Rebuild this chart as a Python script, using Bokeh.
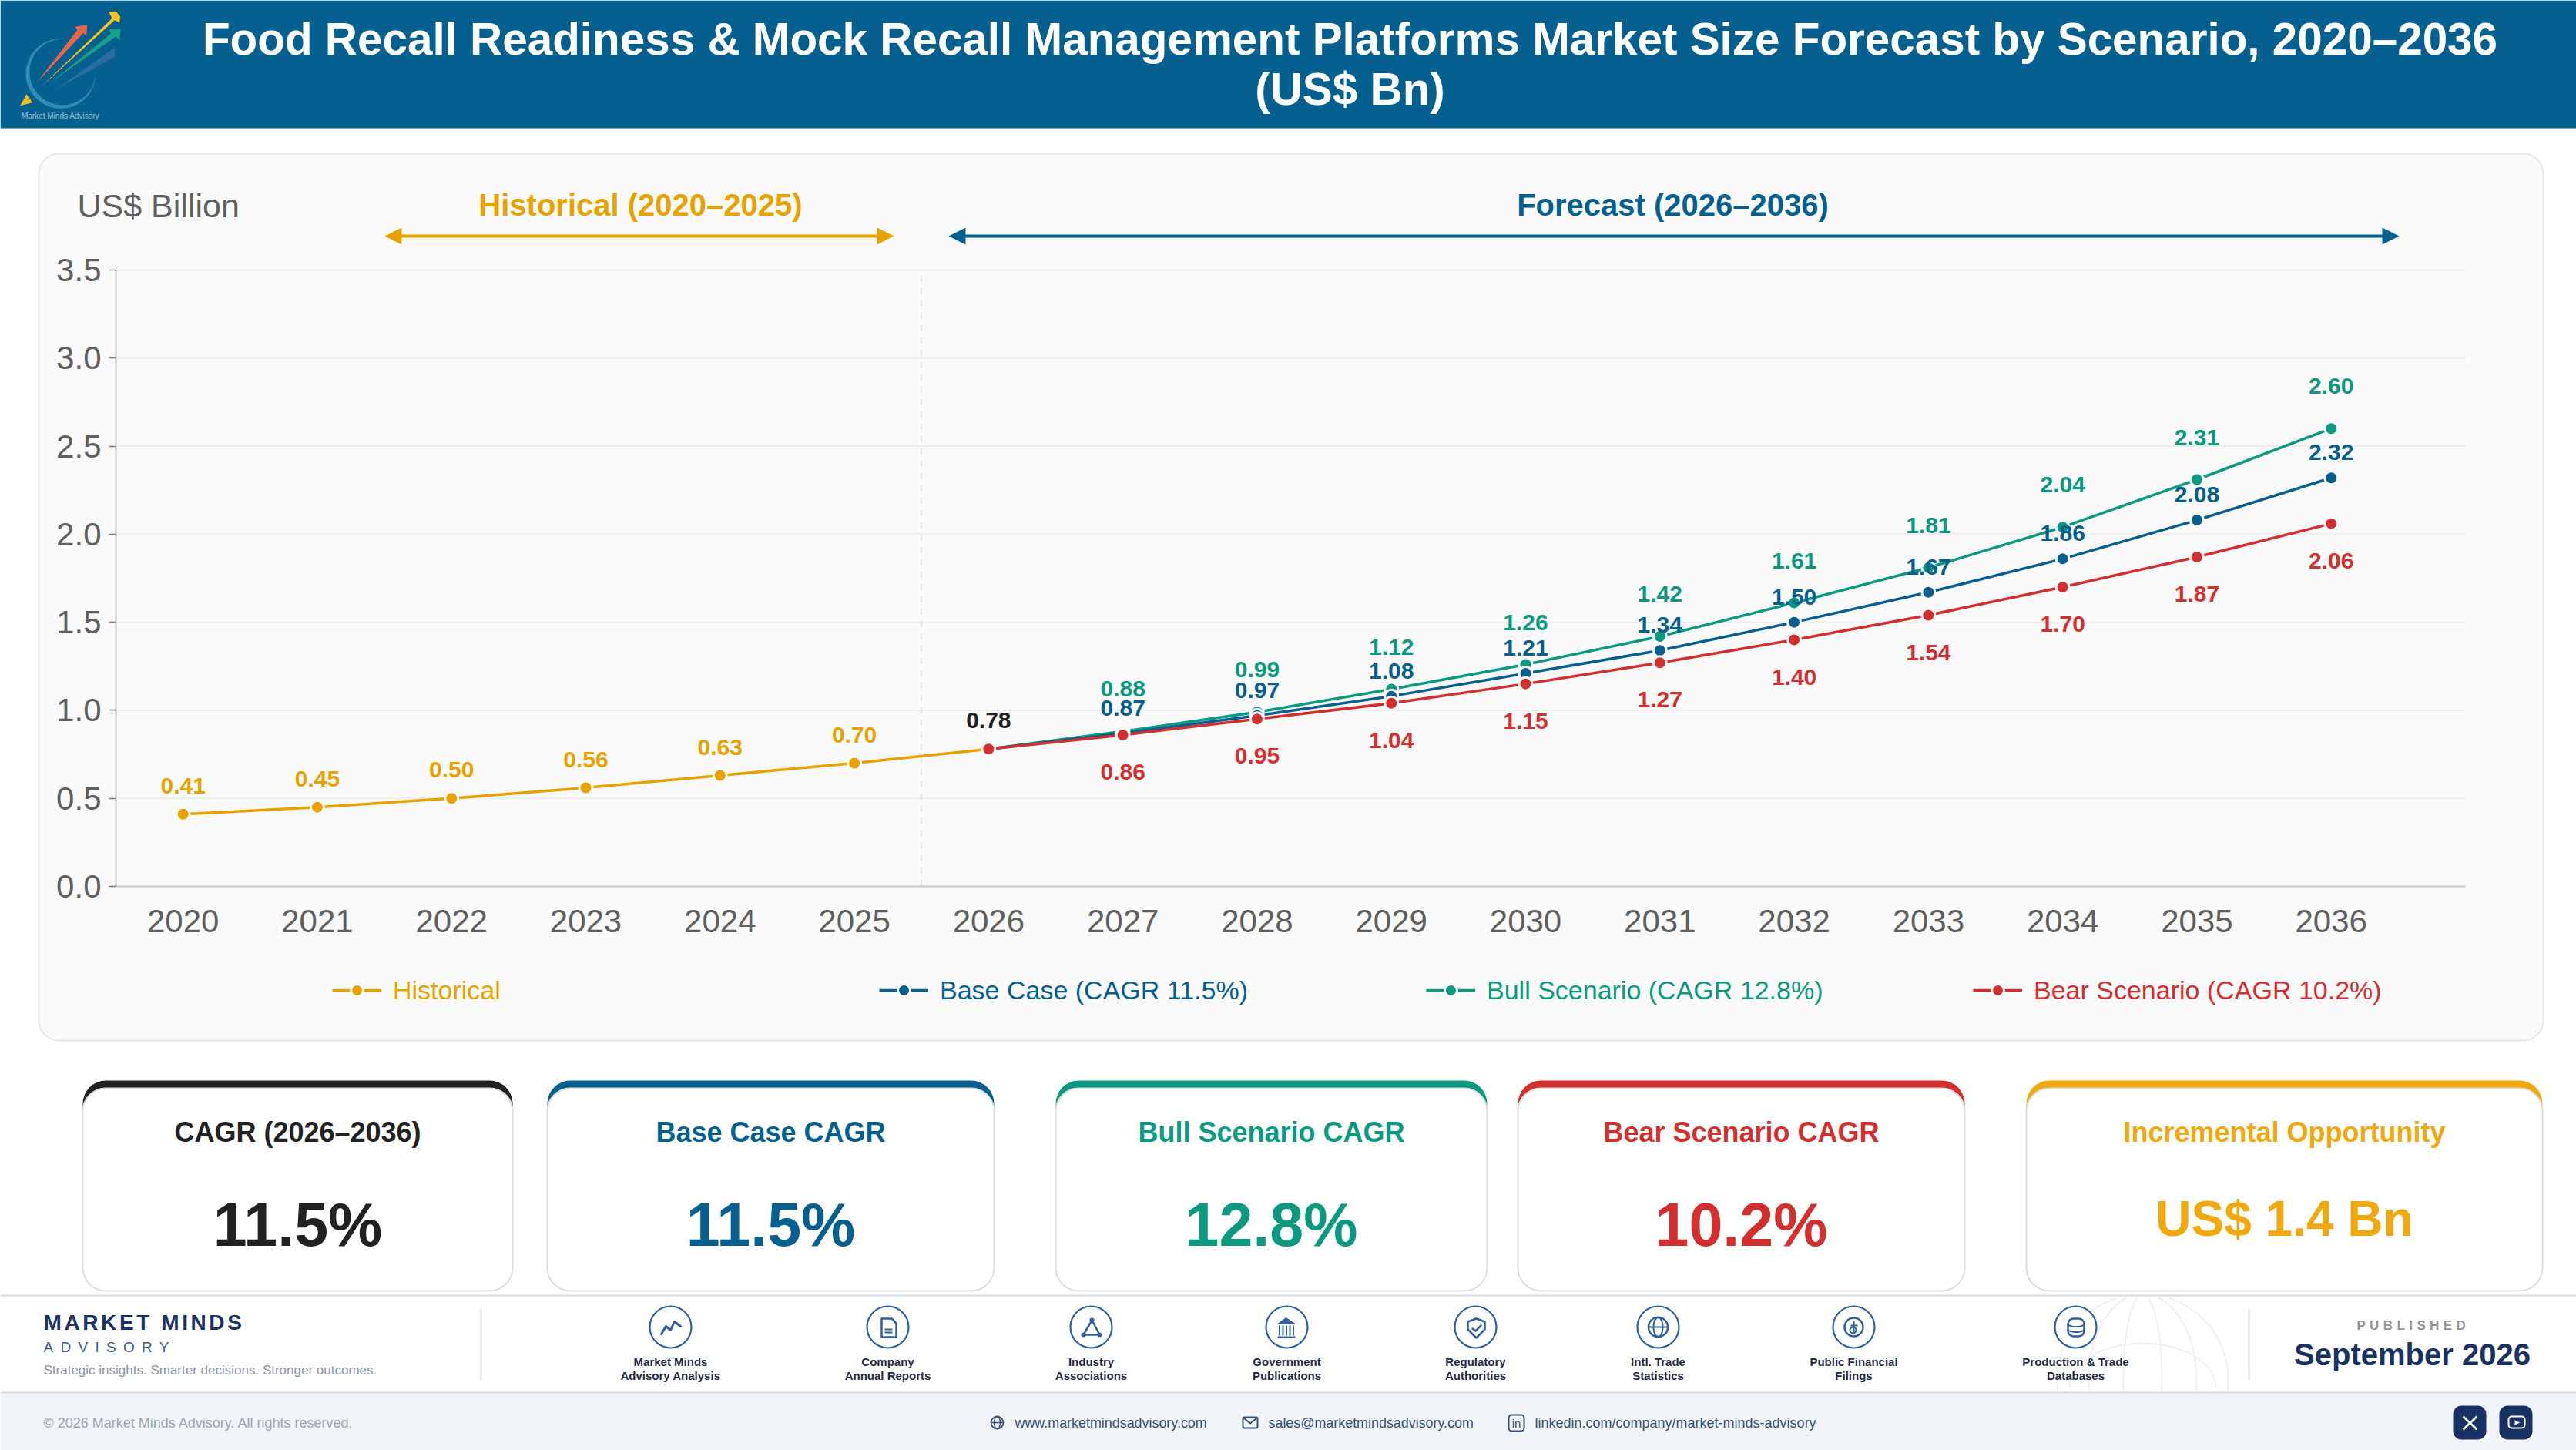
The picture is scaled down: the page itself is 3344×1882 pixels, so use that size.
import numpy as np
from bokeh.plotting import figure
from bokeh.models import (BoxAnnotation, PolyAnnotation, Label, Legend, LegendItem,
                          ColumnDataSource, FixedTicker, Range1d)
from bokeh.core.properties import value
from bokeh.embed import file_html
from bokeh.resources import INLINE

# ---- data ----
hist_years = [2020, 2021, 2022, 2023, 2024, 2025, 2026]
hist_vals = [0.41, 0.45, 0.50, 0.56, 0.63, 0.70, 0.78]
fc_years = [2026, 2027, 2028, 2029, 2030, 2031, 2032, 2033, 2034, 2035, 2036]
base_vals = [0.78, 0.87, 0.97, 1.08, 1.21, 1.34, 1.50, 1.67, 1.86, 2.08, 2.32]
bull_vals = [0.78, 0.88, 0.99, 1.12, 1.26, 1.42, 1.61, 1.81, 2.04, 2.31, 2.60]
bear_vals = [0.78, 0.86, 0.95, 1.04, 1.15, 1.27, 1.40, 1.54, 1.70, 1.87, 2.06]
y_ticks = [0.0, 0.5, 1.0, 1.5, 2.0, 2.5, 3.0, 3.5]
kpi_titles = ["CAGR (2026–2036)", "Base Case CAGR", "Bull Scenario CAGR", "Bear Scenario CAGR", "Incremental Opportunity"]
kpi_values = ["11.5%", "11.5%", "12.8%", "10.2%", "US$ 1.4 Bn"]
sources = [("Market Minds", "Advisory Analysis"), ("Company", "Annual Reports"), ("Industry", "Associations"),
           ("Government", "Publications"), ("Regulatory", "Authorities"), ("Intl. Trade", "Statistics"),
           ("Public Financial", "Filings"), ("Production & Trade", "Databases")]

AMBER, BLUE, GREEN, RED, INK = "#e8a200", "#05608f", "#0b9a80", "#d32f2f", "#222222"
AMBER2, NAVY, ICON = "#f0a80f", "#1a3263", "#2f5f9e"
PANEL = "#fafafa"
FONT = "Liberation Sans"
W, H = 3344, 1882
# the plot area spans the whole page; the axes are pinned at their place inside it
AX_L, AX_R, AX_T, AX_B = 150, 3200, 350, 1150
X0, X1, Y0, Y1 = 2019.5, 2037.0, 0.0, 3.5
SX = (AX_R - AX_L) / (X1 - X0)
SY = (AX_B - AX_T) / (Y1 - Y0)

p = figure(width=W, height=H, output_backend="svg", toolbar_location=None,
           x_range=Range1d(X0 - AX_L / SX, X1 + (W - AX_R) / SX),
           y_range=Range1d(Y0 - (H - AX_B) / SY, Y1 + AX_T / SY),
           min_border=0, background_fill_color="#ffffff", border_fill_color="#ffffff", outline_line_color=None)


def box(l, t, r, b, fill="#ffffff", line=None, lw=0, radius=0):
    rad = radius if isinstance(radius, dict) else int(round(radius))
    p.add_layout(BoxAnnotation(left=l, right=r, top=t, bottom=b,
                               left_units="canvas", right_units="canvas", top_units="canvas", bottom_units="canvas",
                               fill_color=fill, fill_alpha=1 if fill else 0, line_color=line, line_width=lw, line_alpha=1,
                               border_radius=rad, level="image", editable=False))


def poly(pts, fill=None, line=None, lw=0, join="round"):
    p.add_layout(PolyAnnotation(xs=[a for a, _ in pts], ys=[b for _, b in pts], xs_units="canvas", ys_units="canvas",
                                fill_color=fill, fill_alpha=1 if fill else 0, line_color=line, line_width=lw, line_alpha=1,
                                line_join=join, level="image", editable=False))


def stroke(pts, color, lw):
    # an open polyline: walk there and back
    poly(list(pts) + list(pts[-2:0:-1]), None, color, lw)


def text(x, y, s, size, color, bold=False, align="center"):
    p.add_layout(Label(x=x, y=y, x_units="canvas", y_units="canvas", text=s, level="image",
                       text_font=FONT, text_font_size=f"{size}px", text_color=color,
                       text_font_style="bold" if bold else "normal", text_align=align, text_baseline="middle"))


def ring(cx, cy, r, line, lw, fill=None):
    box(cx - r, cy - r, cx + r, cy + r, fill, line, lw, r)


def ell(cx, cy, rx, ry, a0=0, a1=360, n=40):
    t = np.radians(np.linspace(a0, a1, n))
    return list(zip((cx + rx * np.cos(t)).tolist(), (cy + ry * np.sin(t)).tolist()))


# ---- page furniture ----
box(50, 199, 3301, 1350, PANEL, "#e6e6e6", 2, 26)
box(0, 0, W, 166, BLUE)
box(0, 1808, W, H, "#f1f4f9")
box(0, 1680, W, 1682, "#d6dae6")
box(0, 1806, W, 1808, "#d6dae6")

# logo
L = lambda pts: [(10 + a / 3, 5 + b / 3) for a, b in pts]
ang = np.radians(np.linspace(275, 5, 70))  # top, through left and bottom, to the right
outer = [(205 + 136 * np.cos(a), 270 + 136 * np.sin(a)) for a in ang]
th = 1.5 + 15 * np.sin(np.linspace(0, np.pi, 70)) ** 1.2
inner = [(205 + (136 - d) * np.cos(a), 270 + (136 - d) * np.sin(a)) for a, d in zip(ang, th)]
poly(L(outer + inner[::-1]), "#2f8db3")
poly(L([(180, 335), (400, 180), (415, 170), (415, 205)]), "#2a6ea0")
poly(L([(165, 305), (400, 115), (395, 97), (438, 97), (435, 140), (420, 125)]), "#17a085")
poly(L([(125, 325), (405, 55), (392, 30), (420, 28), (437, 48), (434, 72), (415, 62)]), "#f5c21f")
poly(L([(112, 305), (270, 100), (260, 88), (308, 80), (305, 125), (293, 112)]), "#e8654a")
poly(L([(72, 350), (95, 383), (47, 395)]), "#f5b921")
text(78, 150, "Market Minds Advisory", 10, "#9dbbd2")

# header
text(1752, 50, "Food Recall Readiness & Mock Recall Management Platforms Market Size Forecast by Scenario, 2020–2036", 58.4, "#ffffff", True)
text(1752, 115, "(US$ Bn)", 58.4, "#ffffff", True)

text(100, 266, "US$ Billion", 43, "#5f5f5f", False, "left")
text(831, 265, "Historical (2020–2025)", 40, AMBER, True)
text(2171, 265, "Forecast (2026–2036)", 40, BLUE, True)


def double_arrow(x0, x1, y, color):
    box(x0 + 18, y - 2, x1 - 18, y + 2, color)
    poly([(x0, y), (x0 + 22, y - 11), (x0 + 22, y + 11)], color)
    poly([(x1, y), (x1 - 22, y - 11), (x1 - 22, y + 11)], color)


double_arrow(499, 1160, 306, AMBER)
double_arrow(1231, 3114, 306, BLUE)

# ---- axes ----
p.xaxis.ticker = FixedTicker(ticks=hist_years + fc_years[1:])
p.yaxis.ticker = FixedTicker(ticks=y_ticks)
p.yaxis.major_label_overrides = {v: f"{v:.1f}" for v in y_ticks}
p.xaxis.fixed_location = Y0
p.yaxis.fixed_location = X0
p.xaxis.bounds = (X0, X1)
p.yaxis.bounds = (Y0, Y1)
for ax in (p.xaxis[0], p.yaxis[0]):
    ax.major_label_text_font = FONT
    ax.major_label_text_font_size = "42px"
    ax.major_label_text_color = "#5f5f5f"
    ax.minor_tick_line_color = None
p.xaxis.major_tick_line_color = None
p.xaxis.axis_line_color = "#cfcfcf"
p.xaxis.axis_line_width = 2.5
p.xaxis.major_label_standoff = 24
p.yaxis.axis_line_color = "#7f7f7f"
p.yaxis.axis_line_width = 1.5
p.yaxis.major_tick_line_color = "#7f7f7f"
p.yaxis.major_tick_line_width = 1.5
p.yaxis.major_tick_in = 0
p.yaxis.major_tick_out = 9
p.yaxis.major_label_standoff = 10
p.grid.visible = False
# grid lines that stop at the axis and at the plot's right end
grid_y = [v for v in y_ticks if v > Y0]
p.segment(x0=[X0] * len(grid_y), y0=grid_y, x1=[X1] * len(grid_y), y1=grid_y, line_color="#ededed", line_width=2)
p.line([2025.5, 2025.5], [Y0, Y1], line_color="#dcdcdc", line_width=1.5, line_dash=[8, 8])


def series(xs, ys, color):
    src = ColumnDataSource(dict(x=xs, y=ys, t=[f"{v:.2f}" for v in ys]))
    ln = p.line("x", "y", source=src, line_color=color, line_width=3.5)
    pt = p.scatter("x", "y", source=src, size=17, fill_color=color, line_color=PANEL, line_width=3)
    return src, ln, pt


h_src, h_l, h_p = series(hist_years, hist_vals, AMBER)
u_src, u_l, u_p = series(fc_years, bull_vals, GREEN)
b_src, b_l, b_p = series(fc_years, base_vals, BLUE)
r_src, r_l, r_p = series(fc_years, bear_vals, RED)


def value_labels(src, color, dy):
    p.text("x", "y", text="t", source=src, text_font=value(FONT), text_font_size=value("30px"), text_font_style="bold",
           text_color=color, text_align="center", text_baseline="middle", y_offset=dy)


hist_only = ColumnDataSource(dict(x=hist_years[:-1], y=hist_vals[:-1], t=[f"{v:.2f}" for v in hist_vals[:-1]]))
join_pt = ColumnDataSource(dict(x=hist_years[-1:], y=hist_vals[-1:], t=[f"{v:.2f}" for v in hist_vals[-1:]]))
fc_tail = lambda ys: ColumnDataSource(dict(x=fc_years[1:], y=ys[1:], t=[f"{v:.2f}" for v in ys[1:]]))
value_labels(hist_only, AMBER, -37)
value_labels(join_pt, INK, -37)
value_labels(fc_tail(bull_vals), GREEN, -55)
value_labels(fc_tail(base_vals), BLUE, -33)
value_labels(fc_tail(bear_vals), RED, 48)

# ---- legends ----
LEG_Y = 1285
for x0, label, rends, color in [(431, "Historical", [h_l, h_p], AMBER),
                                (1141, "Base Case (CAGR 11.5%)", [b_l, b_p], BLUE),
                                (1851, "Bull Scenario (CAGR 12.8%)", [u_l, u_p], GREEN),
                                (2561, "Bear Scenario (CAGR 10.2%)", [r_l, r_p], RED)]:
    lg = Legend(items=[LegendItem(label=label, renderers=rends)], orientation="horizontal",
                location=(x0, H - LEG_Y - 20), border_line_color=None, background_fill_alpha=0,
                padding=0, margin=0, glyph_width=64, glyph_height=40, label_standoff=15, label_height=40,
                label_text_font=FONT, label_text_font_size="34px", label_text_color=color,
                label_text_baseline="middle")
    p.add_layout(lg, "center")

# ---- KPI cards ----
cards = [(107, 665, INK), (710, 1290, BLUE), (1370, 1930, GREEN), (1970, 2550, RED), (2630, 3300, AMBER2)]
for (l, r, c), title, val in zip(cards, kpi_titles, kpi_values):
    box(l, 1402, r, 1448, c, None, 0, {"top_left": 30, "top_right": 30, "bottom_left": 0, "bottom_right": 0})
    box(l, 1412, r, 1675, "#ffffff", "#dedede", 2, 30)
    text((l + r) / 2, 1469, title, 36, c, True)
    if val.startswith("US"):
        text((l + r) / 2, 1581, val, 64, c, True)
    else:
        text((l + r) / 2, 1589, val, 79, c, True)

# ---- footer ----
# faint globe watermark
gx, gy, gr = 2781, 1790, 111
def clip(pts):
    return [(a, b) for a, b in pts if 1683 < b < 1805]
for rx in (111, 70, 25):
    for a0, a1 in ((-90, 90), (90, 270)):
        pts = clip(ell(gx, gy, rx, gr, a0, a1, 60))
        if len(pts) > 2:
            stroke(pts, "#eef0f5", 2)
stroke(clip(ell(gx, 1800, 95, 57, 180, 360, 40)), "#eef0f5", 2)

text(56, 1716, "MARKET MINDS", 28, NAVY, True, "left")
text(56, 1748, "ADVISORY", 19, "#3f5a8a", False, "left")
text(56, 1778, "Strategic insights. Smarter decisions. Stronger outcomes.", 17, "#8a94a6", False, "left")
box(623, 1698, 625, 1790, "#cfd4de")
box(2918, 1698, 2920, 1790, "#cfd4de")
text(3108, 1720, "PUBLISHED", 17, "#8f949c", True)
text(3131, 1757, "September 2026", 40, NAVY, True)

centers = [870, 1152, 1416, 1670, 1915, 2152, 2406, 2694]
IY = 1722
for cx, (a, b) in zip(centers, sources):
    ring(cx, IY, 27, ICON, 2.2, "#ffffff")
    text(cx, 1767, a, 15, "#1f2a44", True)
    text(cx, 1785, b, 15, "#1f2a44", True)
O = lambda cx, pts: [(cx + a, IY + b) for a, b in pts]
# 1 trend
stroke(O(870, [(-12, 9), (-6, -1), (0, 4), (5, -7), (13, -1)]), ICON, 3)
# 2 document
cx = 1152
poly(O(cx, [(-8, -11), (5, -11), (11, -5), (11, 13), (-8, 13)]), None, ICON, 2.5)
stroke(O(cx, [(-4, 3), (6, 3)]), ICON, 2)
stroke(O(cx, [(-4, 7), (6, 7)]), ICON, 2)
# 3 network
cx = 1416
poly(O(cx, [(1, -9), (-10, 10), (11, 10)]), None, ICON, 2.5)
for a, b in [(1, -9), (-10, 10), (11, 10)]:
    ring(cx + a, IY + b, 3, None, 0, ICON)
# 4 institution
cx = 1670
poly(O(cx, [(-12, -4), (-1, -12), (11, -4)]), ICON, ICON, 1)
for a in (-9.5, -5, -0.5, 4, 8.5):
    box(cx + a - 1, IY - 2, cx + a + 1, IY + 11, ICON)
box(cx - 12, IY + 12, cx + 11, IY + 14.5, ICON)
# 5 shield
cx = 1915
poly(O(cx, [(1, -11), (-10, -7), (-10, 3), (1, 14), (12, 3), (12, -7)]), None, ICON, 2.5)
stroke(O(cx, [(-4, 2), (0, 5), (7, -2)]), ICON, 2.5)
# 6 globe
cx = 2152
ring(cx, IY, 12.5, ICON, 2.5)
poly(ell(cx, IY, 6, 12.5), None, ICON, 2)
stroke(O(cx, [(-12, 0), (12, 0)]), ICON, 2)
# 7 coin
cx = 2406
ring(cx, IY, 12, ICON, 2.5)
stroke(O(cx, [(0, -8), (0, 8)]), ICON, 2)
stroke(O(cx, [(-4, -2), (5, -2)]), ICON, 2)
ring(cx - 1, IY + 4, 4, ICON, 2)
# 8 database
cx = 2694
box(cx - 10, IY - 11, cx + 11, IY + 12, None, ICON, 2.5, 7)
stroke(ell(cx + 0.5, IY - 4, 10.5, 3.5, 0, 180, 14), ICON, 2)
stroke(ell(cx + 0.5, IY + 3, 10.5, 3.5, 0, 180, 14), ICON, 2)

# bottom strip
FY = 1846
text(56, FY, "© 2026 Market Minds Advisory. All rights reserved.", 18, "#9aa5b4", False, "left")
LINK = "#34507a"
ring(1294, FY, 8, LINK, 1.8)
poly(ell(1294, FY, 4, 8, n=24), None, LINK, 1.5)
stroke([(1286, FY), (1302, FY)], LINK, 1.5)
text(1317, FY, "www.marketmindsadvisory.com", 17.9, LINK, False, "left")
box(1613, FY - 7, 1632, FY + 7, None, LINK, 2, 2)
stroke([(1614, FY - 6), (1622.5, FY + 1), (1631, FY - 6)], LINK, 1.8)
text(1646, FY, "sales@marketmindsadvisory.com", 17.9, LINK, False, "left")
box(1958, FY - 10, 1978, FY + 11, None, LINK, 2, 4)
text(1968, FY + 1, "in", 15, LINK, False)
text(1992, FY, "linkedin.com/company/market-minds-advisory", 18, LINK, False, "left")
box(3184, 1824, 3227, 1868, NAVY, None, 0, 11)
box(3244, 1824, 3287, 1868, NAVY, None, 0, 11)
stroke([(3197, 1838), (3215, 1855)], "#ffffff", 2.5)
stroke([(3215, 1838), (3197, 1855)], "#ffffff", 2.5)
box(3256, 1838, 3277, 1853, None, "#ffffff", 2, 4)
poly([(3264, 1843), (3271, 1846), (3264, 1849)], "#ffffff")

# the three tracked-out brand texts: letter spacing on the SVG text elements
TRACKING = """<script>
(function () {
  const tracking = {"MARKET MINDS": "3.6px", "ADVISORY": "9.3px", "PUBLISHED": "5.4px"};
  function walk(root) {
    for (const el of root.querySelectorAll("*")) {
      if (el.shadowRoot) walk(el.shadowRoot);
      if (el.tagName.toLowerCase() === "text" && tracking[el.textContent.trim()]) {
        el.style.letterSpacing = tracking[el.textContent.trim()];
      }
    }
  }
  setInterval(function () { walk(document); }, 50);
})();
</script>
</body>"""
html = file_html(p, INLINE)
open("out.html", "w").write(html.replace("</body>", TRACKING))
